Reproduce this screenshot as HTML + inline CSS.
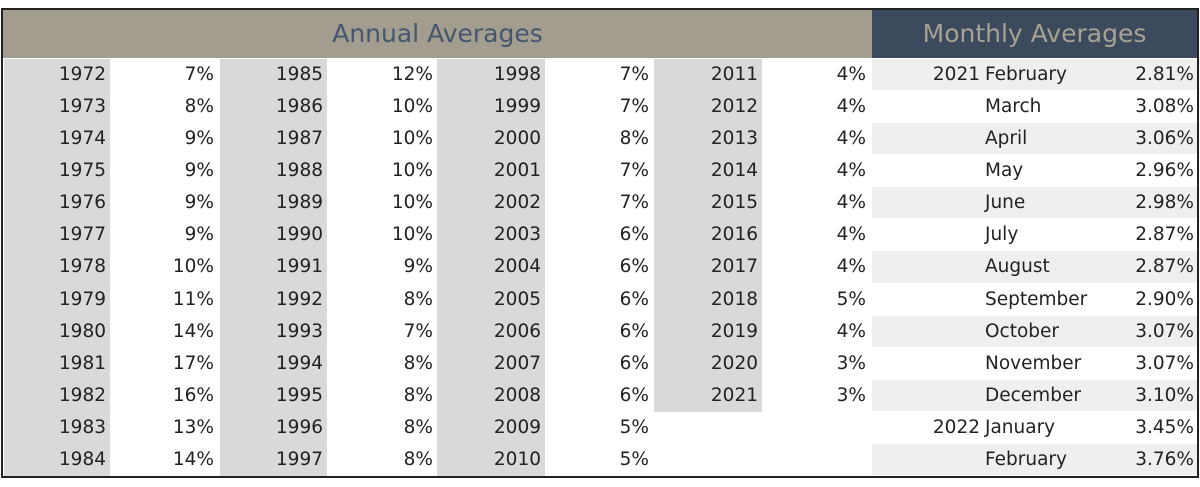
<!DOCTYPE html>
<html><head><meta charset="utf-8">
<style>
html,body{margin:0;padding:0;background:#fff;}
#wrap{position:relative;width:1200px;height:487px;overflow:hidden;font-family:"DejaVu Sans","Liberation Sans",sans-serif;color:#222;}
.frame{position:absolute;left:1px;top:8px;width:1194px;height:466px;border:2px solid #222;}
.hdr{position:absolute;top:10px;height:48px;line-height:48px;text-align:center;font-size:25px;}
.cell{position:absolute;height:32px;line-height:32px;font-size:18.5px;white-space:nowrap;}
.bg{position:absolute;}
</style></head><body>
<div id="wrap">
<div class="hdr" style="left:3px;width:869px;background:#a29d8f;color:#45566f;">Annual Averages</div>
<div class="hdr" style="left:872px;width:325px;background:#3c4a5d;color:#a7a292;">Monthly Averages</div>
<div class="frame"></div>
</div>
<script>
const annualYears=[1972,1973,1974,1975,1976,1977,1978,1979,1980,1981,1982,1983,1984,1985,1986,1987,1988,1989,1990,1991,1992,1993,1994,1995,1996,1997,1998,1999,2000,2001,2002,2003,2004,2005,2006,2007,2008,2009,2010,2011,2012,2013,2014,2015,2016,2017,2018,2019,2020,2021];
const annualRates=[7,8,9,9,9,9,10,11,14,17,16,13,14,12,10,10,10,10,10,9,8,7,8,8,8,8,7,7,8,7,7,6,6,6,6,6,6,5,5,4,4,4,4,4,4,4,5,4,3,3];
const monthYears=["2021","","","","","","","","","","","2022",""];
const monthNames=["February","March","April","May","June","July","August","September","October","November","December","January","February"];
const monthRates=["2.81%","3.08%","3.06%","2.96%","2.98%","2.87%","2.87%","2.90%","3.07%","3.07%","3.10%","3.45%","3.76%"];
const wrap=document.getElementById('wrap');
const top0=59,rowH=32.08;
const colX=[[4,110,218],[220,327,437],[437,545,653],[654,762,870]];
function mk(cls,css,txt){const d=document.createElement('div');d.className=cls;d.style.cssText=css;if(txt!==undefined)d.textContent=txt;wrap.insertBefore(d,wrap.querySelector('.frame'));return d;}
// gray year column backgrounds
colX.forEach((c,ci)=>{
  const n=Math.min(13,annualYears.length-ci*13);
  const b=mk('bg',`left:${c[0]}px;top:${top0}px;width:${c[1]-c[0]}px;height:${n*rowH}px;background:#d9d9d9;`);
  
  
});
annualYears.forEach((y,i)=>{
  const ci=Math.floor(i/13),r=i%13,c=colX[ci];
  const t=top0+r*rowH;
  const a=mk('cell',`left:${c[0]}px;width:${c[1]-c[0]-4}px;top:${t}px;text-align:right;`,String(y));
  
  
  const b=mk('cell',`left:${c[1]}px;width:${c[2]-c[1]-4}px;top:${t}px;text-align:right;`,annualRates[i]+'%');
  
  
});
monthNames.forEach((m,i)=>{
  const t=top0+i*rowH;
  if(i%2===0){
    const b=mk('bg',`left:872px;top:${t}px;width:325px;height:${rowH-1}px;background:#efefef;`);
    
    
  }
  const y=mk('cell',`left:872px;width:108px;top:${t}px;text-align:right;`,monthYears[i]);
  
  
  const n=mk('cell',`left:985px;width:130px;top:${t}px;text-align:left;`,m);
  
  
  const v=mk('cell',`left:1090px;width:104px;top:${t}px;text-align:right;`,monthRates[i]);
  
  
});
</script>
</body></html>
